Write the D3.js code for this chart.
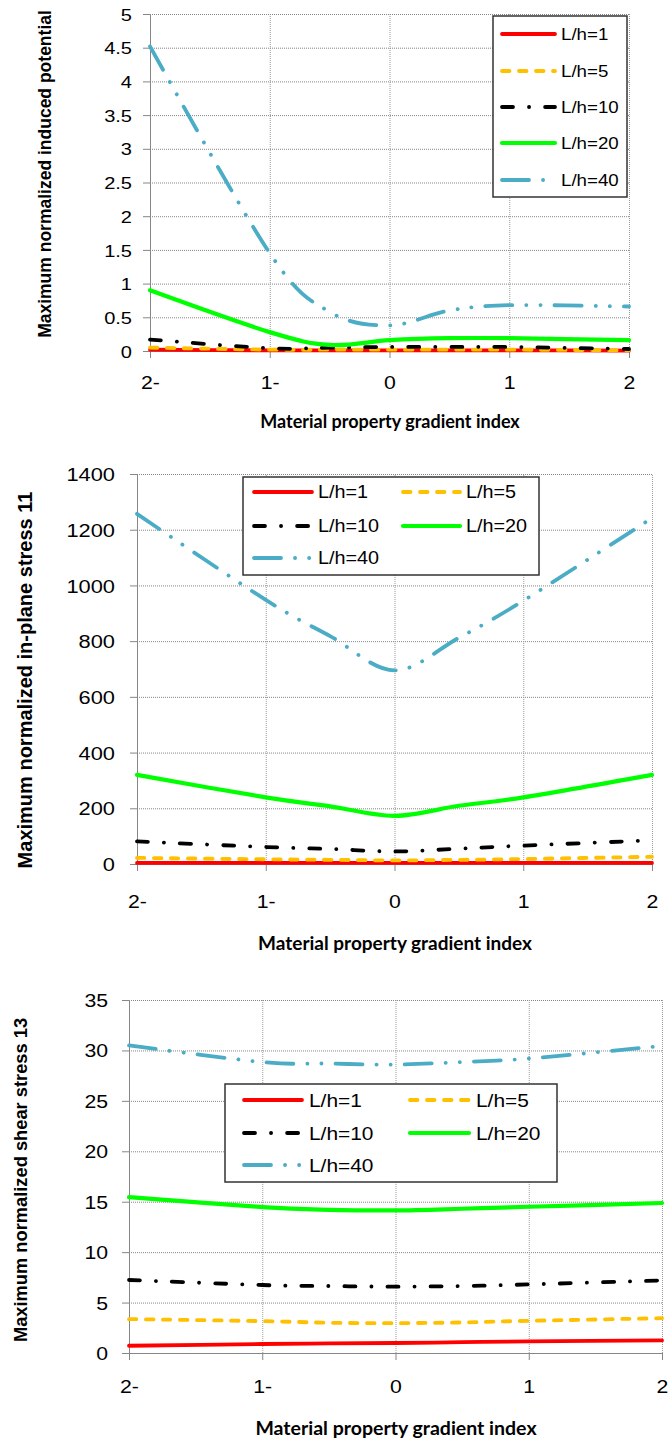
<!DOCTYPE html>
<html>
<head>
<meta charset="utf-8">
<script src="https://cdn.jsdelivr.net/npm/d3@7"></script>
<style>
  html, body { margin: 0; padding: 0; background: #fff; }
  svg { display: block; }
</style>
</head>
<body>
<svg id="fig" width="670" height="1441"></svg>
<script>
// Gradient index values at which every case was evaluated
const gradientIndex = [-2, -1, -0.5, 0, 0.5, 1, 2];
const xTickValues = [-2, -1, 0, 1, 2];
const xTickLabels = ["2-", "1-", "0", "1", "2"];
const seriesNames = ["L/h=1", "L/h=5", "L/h=10", "L/h=20", "L/h=40"];

// Maximum normalized induced potential, one row per L/h
const potentialValues = [
  [0.02, 0.01, 0.01, 0.01, 0.01, 0.01, 0.005],
  [0.05, 0.02, 0.02, 0.02, 0.02, 0.02, 0.01],
  [0.17, 0.04, 0.05, 0.06, 0.06, 0.06, 0.03],
  [0.90, 0.28, 0.09, 0.16, 0.19, 0.19, 0.16],
  [4.52, 1.45, 0.58, 0.38, 0.60, 0.68, 0.66]
];
// Maximum normalized in-plane stress 11
const stressValues = [
  [4, 4, 4, 4, 4, 4, 4],
  [22, 17, 15, 13, 15, 18, 26],
  [81, 61, 54, 45, 55, 66, 85],
  [320, 239, 207, 173, 209, 239, 320],
  [1257, 948, 818, 695, 812, 945, 1242]
];
// Maximum normalized shear stress 13
const shearValues = [
  [0.72, 0.89, 0.95, 0.99, 1.07, 1.15, 1.25],
  [3.36, 3.16, 3.00, 2.96, 3.03, 3.19, 3.45],
  [7.24, 6.74, 6.64, 6.58, 6.64, 6.80, 7.20],
  [15.46, 14.47, 14.20, 14.14, 14.30, 14.50, 14.87],
  [30.50, 28.85, 28.70, 28.60, 28.85, 29.20, 30.45]
];

const potentialTicks = [0, 0.5, 1, 1.5, 2, 2.5, 3, 3.5, 4, 4.5, 5];
const stressTicks = [0, 200, 400, 600, 800, 1000, 1200, 1400];
const shearTicks = [0, 5, 10, 15, 20, 25, 30, 35];

// Series styling
const seriesColors = ["#ff0000", "#ffc000", "#000000", "#00ff00", "#4bacc6"];
const seriesWidths = [3.8, 3.8, 3.8, 4.2, 3.8];
const seriesDashes = [null, "7.5,9.5", "11,16,0.1,16", null, "27,14,0.1,14,0.1,14"];

const svg = d3.select("#fig");
const textStretch = 1.18;
const titleFont = "'Liberation Sans', Arial, sans-serif";
const xTitleFont = "Lato, 'Open Sans', sans-serif";

const charts = [
  {
    values: potentialValues, ticks: potentialTicks, yMax: 5,
    yTitle: "Maximum normalized induced potential",
    left: 150, right: 629, top: 14, bottom: 351,
    tickFont: 17, labelGap: 18, xLabelY: 383,
    yTitleX: 45, yTitleY: 174, yTitleSize: 17.5,
    xTitleX: 390, xTitleY: 422, xTitleSize: 18,
    legend: {
      box: [493, 16, 627, 197], font: 17,
      items: [
        { line: [502, 555], text: 561, y: 34 },
        { line: [502, 555], text: 561, y: 71 },
        { line: [502, 555], text: 561, y: 107 },
        { line: [502, 555], text: 561, y: 143 },
        { line: [502, 555], text: 561, y: 180 }
      ]
    }
  },
  {
    values: stressValues, ticks: stressTicks, yMax: 1400,
    yTitle: "Maximum normalized in-plane stress 11",
    left: 137, right: 652, top: 474, bottom: 864,
    tickFont: 18.5, labelGap: 22, xLabelY: 902,
    yTitleX: 25, yTitleY: 680, yTitleSize: 20,
    xTitleX: 395, xTitleY: 943, xTitleSize: 19,
    legend: {
      box: [243, 477, 539, 575], font: 18,
      items: [
        { line: [254, 312], text: 318, y: 492 },
        { line: [403, 460], text: 466, y: 492 },
        { line: [254, 312], text: 318, y: 526 },
        { line: [403, 460], text: 466, y: 526 },
        { line: [254, 312], text: 318, y: 558 }
      ]
    }
  },
  {
    values: shearValues, ticks: shearTicks, yMax: 35,
    yTitle: "Maximum normalized shear stress 13",
    left: 129, right: 662, top: 1000, bottom: 1353,
    tickFont: 18, labelGap: 21, xLabelY: 1387,
    yTitleX: 20.5, yTitleY: 1180, yTitleSize: 18.3,
    xTitleX: 396, xTitleY: 1428, xTitleSize: 19.5,
    legend: {
      box: [225, 1084, 557, 1182], font: 19,
      items: [
        { line: [244, 302], text: 309, y: 1100 },
        { line: [410, 469], text: 476, y: 1100 },
        { line: [244, 302], text: 309, y: 1133 },
        { line: [410, 469], text: 476, y: 1133 },
        { line: [244, 302], text: 309, y: 1165 }
      ]
    }
  }
];

function styleLabels(sel, size) {
  sel.selectAll("text")
    .attr("fill", "#000")
    .style("font-family", titleFont)
    .style("font-size", size + "px");
}

function drawChart(cfg) {
  const g = svg.append("g");
  const x = d3.scaleLinear().domain([-2, 2]).range([cfg.left, cfg.right]);
  const y = d3.scaleLinear().domain([0, cfg.yMax]).range([cfg.bottom, cfg.top]);
  const w = cfg.right - cfg.left;
  const h = cfg.bottom - cfg.top;

  // dotted horizontal gridlines
  g.append("g")
    .attr("transform", `translate(${cfg.left},0)`)
    .call(d3.axisLeft(y).tickValues(cfg.ticks).tickSize(-w).tickFormat(""))
    .call(s => {
      s.select(".domain").remove();
      s.selectAll("line").attr("stroke", "#858585").attr("stroke-dasharray", "1,1");
    });

  // dotted vertical gridlines
  g.append("g")
    .attr("transform", `translate(0,${cfg.bottom})`)
    .call(d3.axisTop(x).tickValues(xTickValues).tickSize(h).tickFormat(""))
    .call(s => {
      s.select(".domain").remove();
      s.selectAll("line").attr("stroke", "#9a9a9a").attr("stroke-dasharray", "1,1");
    });

  // value axis
  const yAxis = g.append("g")
    .attr("transform", `translate(${cfg.left},0)`)
    .call(d3.axisLeft(y).tickValues(cfg.ticks).tickSize(7).tickSizeOuter(0)
      .tickFormat(d => String(d)));
  yAxis.select(".domain").attr("stroke", "#868686");
  yAxis.selectAll(".tick line").attr("stroke", "#868686");
  styleLabels(yAxis, cfg.tickFont);
  yAxis.selectAll("text")
    .attr("x", -cfg.labelGap / textStretch)
    .attr("dy", "0.36em")
    .attr("transform", `scale(${textStretch},1)`);

  // gradient index axis
  const xAxis = g.append("g")
    .attr("transform", `translate(0,${cfg.bottom})`)
    .call(d3.axisBottom(x).tickValues(xTickValues)
      .tickFormat((d, i) => xTickLabels[i]).tickSize(7).tickSizeOuter(0));
  xAxis.select(".domain").attr("stroke", "#868686");
  xAxis.selectAll(".tick line").attr("stroke", "#868686");
  styleLabels(xAxis, 18);
  xAxis.selectAll("text")
    .attr("y", cfg.xLabelY - cfg.bottom)
    .attr("dy", "0.36em")
    .attr("transform", `scale(${textStretch},1)`);

  // series curves
  const line = d3.line()
    .x((d, i) => x(gradientIndex[i]))
    .y(d => y(d))
    .curve(d3.curveCardinal.tension(0));
  cfg.values.forEach((vals, k) => {
    g.append("path")
      .attr("d", line(vals))
      .attr("fill", "none")
      .attr("stroke", seriesColors[k])
      .attr("stroke-width", seriesWidths[k])
      .attr("stroke-dasharray", seriesDashes[k])
      .attr("stroke-linecap", "round")
      .attr("stroke-linejoin", "round");
  });

  // legend
  const lg = cfg.legend;
  const [bx0, by0, bx1, by1] = lg.box;
  g.append("rect")
    .attr("x", bx0).attr("y", by0)
    .attr("width", bx1 - bx0).attr("height", by1 - by0)
    .attr("fill", "#fff").attr("stroke", "#333").attr("stroke-width", 1.5);
  lg.items.forEach((it, k) => {
    g.append("line")
      .attr("x1", it.line[0]).attr("x2", it.line[1])
      .attr("y1", it.y).attr("y2", it.y)
      .attr("stroke", seriesColors[k])
      .attr("stroke-width", seriesWidths[k])
      .attr("stroke-dasharray", seriesDashes[k])
      .attr("stroke-linecap", "round");
    g.append("text")
      .attr("transform", `translate(${it.text},${it.y}) scale(1.1,1)`)
      .attr("dy", "0.36em")
      .style("font-family", titleFont)
      .style("font-size", lg.font + "px")
      .attr("fill", "#000")
      .text(seriesNames[k]);
  });

  // axis titles
  g.append("text")
    .attr("transform", `translate(${cfg.yTitleX},${cfg.yTitleY}) rotate(-90)`)
    .attr("text-anchor", "middle")
    .attr("dy", "0.35em")
    .style("font-family", titleFont)
    .style("font-weight", "bold")
    .style("font-size", cfg.yTitleSize + "px")
    .text(cfg.yTitle);
  g.append("text")
    .attr("x", cfg.xTitleX).attr("y", cfg.xTitleY)
    .attr("text-anchor", "middle")
    .attr("dy", "0.35em")
    .style("font-family", xTitleFont)
    .style("font-weight", "bold")
    .style("font-size", cfg.xTitleSize + "px")
    .text("Material property gradient index");
}

charts.forEach(drawChart);
</script>
</body>
</html>
